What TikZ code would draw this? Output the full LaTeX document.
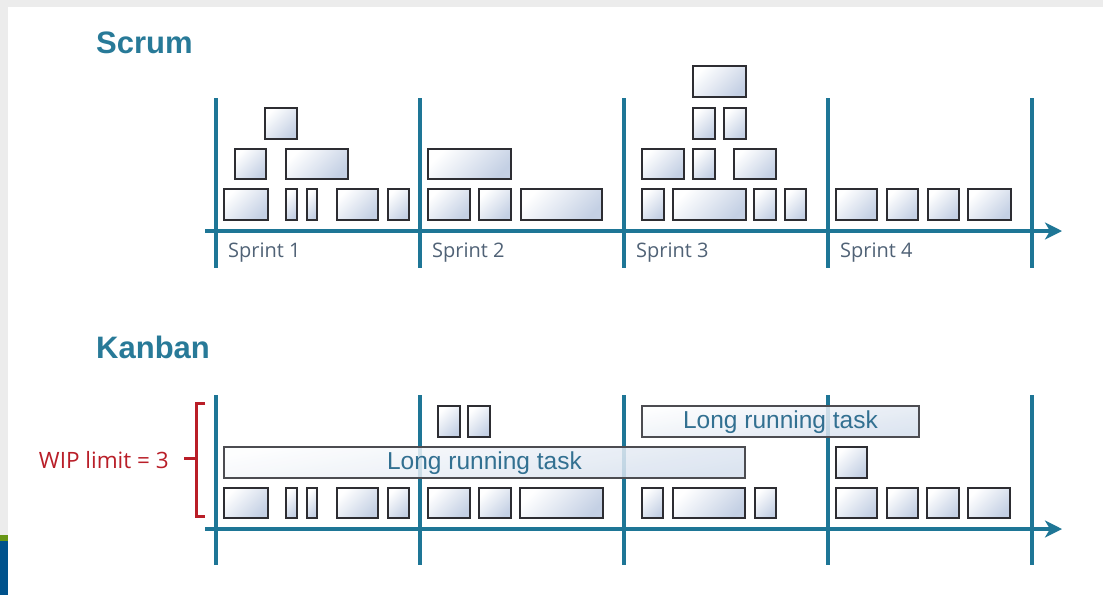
\documentclass[tikz,border=0pt]{standalone}
\usepackage{fontspec}
\setmainfont{Liberation Sans}
\newfontfamily\labfont{Open Sans}
\usetikzlibrary{arrows.meta}
\definecolor{tealln}{RGB}{30,118,150}
\definecolor{titlec}{RGB}{40,122,152}
\definecolor{labc}{RGB}{80,98,118}
\definecolor{longc}{RGB}{50,112,145}
\definecolor{wipc}{RGB}{185,30,40}
\definecolor{boxb}{RGB}{196,208,228}
\definecolor{longb}{RGB}{214,224,238}
\definecolor{edgec}{RGB}{45,45,50}
\definecolor{framegray}{RGB}{236,236,236}
\definecolor{slidegreen}{RGB}{104,150,22}
\definecolor{slideblue}{RGB}{0,82,140}
\tikzset{
  taskbox/.style={draw=edgec, line width=1.4pt, inner sep=0pt, outer sep=0pt,
    top color=white, bottom color=boxb, shading angle=45, anchor=north west},
  longbox/.style={draw=edgec!85, line width=1.4pt, inner sep=0pt, outer sep=0pt,
    top color=white!96!longb, bottom color=longb, shading angle=10, fill opacity=0.85,
    anchor=north west},
  longtext/.style={text=longc, font=\fontsize{24.5}{26}\selectfont, inner sep=0pt},
  vline/.style={draw=tealln, line width=4pt},
  axisline/.style={draw=tealln, line width=3.5pt, -{Stealth[length=17pt, width=17pt, inset=5pt]}},
  titletext/.style={text=titlec, font=\fontsize{31}{34}\selectfont\bfseries, anchor=base west, inner sep=0pt},
  sprintlab/.style={text=labc, font=\labfont\fontsize{20}{22}\selectfont, anchor=base west, inner sep=0pt},
  wiptext/.style={text=wipc, font=\labfont\fontsize{22.5}{24}\selectfont, anchor=base east, inner sep=0pt},
  wipbracket/.style={draw=wipc, line width=3pt}
}
\begin{document}
\begin{tikzpicture}[x=1pt,y=1pt]
\useasboundingbox (0,0) rectangle (1103,-595);
% slide background
\fill[white] (0,0) rectangle (1103,-595);
\fill[framegray] (0,0) rectangle (1103,-7);
\fill[framegray] (0,0) rectangle (8,-535);
\fill[slidegreen] (0,-535) rectangle (8,-541);
\fill[slideblue] (0,-541) rectangle (8,-595);

% titles
\node[titletext] (scrumtitle) at (96,-53) {Scrum};
\node[titletext] (kanbantitle) at (96,-358) {Kanban};

% ---------------- Scrum ----------------
\foreach \x [count=\i] in {216,420,624,828,1032} {
  \coordinate (st\i) at (\x,-98);
  \coordinate (sb\i) at (\x,-268);
  \draw[vline] (st\i) -- (sb\i);
}
\coordinate (sa0) at (205,-231);
\coordinate (sa1) at (1062,-231);
\draw[axisline] (sa0) -- (sa1);

\foreach \a/\b/\c/\d [count=\i] in {
  224/189/268/220, 286/189/297/220, 307/189/317/220, 337/189/378/220, 388/189/409/220,
  428/189/470/220, 479/189/511/220, 521/189/602/220,
  642/189/664/220, 673/189/746/220, 754/189/776/220, 785/189/806/220,
  836/189/877/220, 887/189/918/220, 928/189/959/220, 968/189/1011/220,
  235/149/266/179, 286/149/348/179, 428/149/511/179,
  642/149/684/179, 693/149/715/179, 734/149/776/179,
  265/108/297/139, 693/108/715/139, 724/108/746/139,
  693/66/746/97} {
  \node[taskbox, minimum width={(\c-\a)*1pt}, minimum height={(\d-\b)*1pt}] (sbox\i) at (\a,-\b) {};
}

\node[sprintlab] (sp1) at (228,-257) {Sprint 1};
\node[sprintlab] (sp2) at (432,-257) {Sprint 2};
\node[sprintlab] (sp3) at (636,-257) {Sprint 3};
\node[sprintlab] (sp4) at (840,-257) {Sprint 4};

% ---------------- Kanban ----------------
\foreach \x [count=\i] in {216,420,624,828,1032} {
  \coordinate (kt\i) at (\x,-395);
  \coordinate (kb\i) at (\x,-565);
  \draw[vline] (kt\i) -- (kb\i);
}
\coordinate (ka0) at (205,-529);
\coordinate (ka1) at (1062,-529);
\draw[axisline] (ka0) -- (ka1);

\foreach \a/\b/\c/\d [count=\i] in {
  224/488/268/518, 286/488/297/518, 307/488/317/518, 337/488/378/518, 388/488/409/518,
  428/488/470/518, 479/488/511/518, 520/488/603/518,
  642/488/663/518, 673/488/745/518, 755/488/776/518,
  836/488/877/518, 887/488/918/518, 927/488/959/518, 968/488/1010/518,
  438/406/460/437, 468/406/490/437,
  836/447/867/478} {
  \node[taskbox, minimum width={(\c-\a)*1pt}, minimum height={(\d-\b)*1pt}] (kbox\i) at (\a,-\b) {};
}

\node[longbox, minimum width=521pt, minimum height=31pt] (longlow) at (224,-447) {};
\node[longtext] (longlowtxt) at ([yshift=-1pt]longlow.center) {Long running task};
\node[longbox, minimum width=277pt, minimum height=31pt] (longup) at (642,-406) {};
\node[longtext] (longuptxt) at ([yshift=-1pt]longup.center) {Long running task};

% WIP limit bracket
\coordinate (w1) at (205,-403);
\coordinate (w2) at (196,-403);
\coordinate (w3) at (196,-516);
\coordinate (w4) at (205,-516);
\coordinate (wm) at (196,-458);
\coordinate (wt) at (184,-458);
\draw[wipbracket] (w1) -- (w2) -- (w3) -- (w4);
\draw[wipbracket] (wm) -- (wt);
\node[wiptext] (wip) at (169,-468) {WIP limit = 3};
\end{tikzpicture}
\end{document}
